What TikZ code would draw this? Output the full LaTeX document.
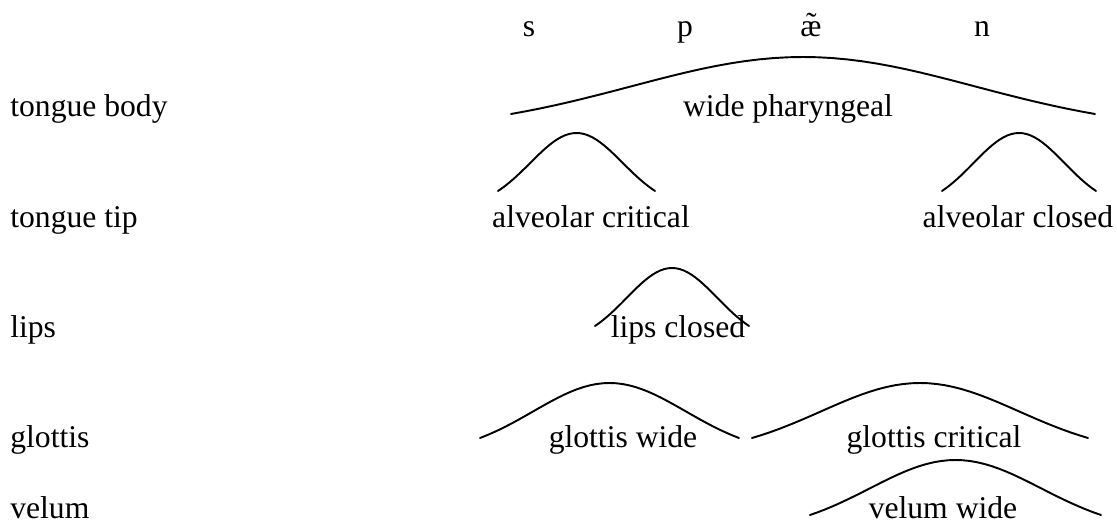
\documentclass[tikz,border=0pt]{standalone}
\usepackage{fontspec}
\setmainfont{Liberation Serif}
\usepackage{tikz}

\tikzset{
  lbl/.style={font=\fontsize{18}{21}\selectfont,inner sep=0pt,anchor=base},
  tier/.style={lbl,anchor=base west},
  gest/.style={line width=1.1pt,line cap=round},
}

\begin{document}
\begin{tikzpicture}[x=0.02cm,y=-0.02cm]
  \useasboundingbox (0,0) rectangle (1117,524);
  % segments on top
  \node[lbl] (seg-s)  at (529,36) {s};
  \node[lbl] (seg-p)  at (685,36) {p};
  \node[lbl] (seg-ae) at (811,36) {æ̃};
  \node[lbl] (seg-n)  at (982,36) {n};
  % tiers
  \node[tier] (tier-body) at (10,116) {tongue body};
  \node[tier] (tier-tip)  at (10,227) {tongue tip};
  \node[tier] (tier-lips) at (10,337) {lips};
  \node[tier] (tier-glot) at (10,447) {glottis};
  \node[tier] (tier-vel)  at (10,518) {velum};
  % gesture humps: left x / right x / foot y / height
  \foreach \xa/\xb/\yb/\h in {511/1095/114/57, 498/655/191/58, 942/1096/191/58,
      595/749/326/58, 480/739/438/55, 752/1088/438/55, 810/1101/515/55}
    \draw[gest] plot[domain=-1.7:1.7,samples=41]
      ({\xa+(\x+1.7)/3.4*(\xb-\xa)},{\yb-\h*(exp(-\x*\x/2)-0.2357)/0.7643});
  % gesture labels
  \node[lbl] (g-phar)    at (788,116)  {wide pharyngeal};
  \node[lbl] (g-alvcrit) at (591,227)  {alveolar critical};
  \node[lbl] (g-alvclo)  at (1018,227) {alveolar closed};
  \node[lbl] (g-lips)    at (678,337)  {lips closed};
  \node[lbl] (g-glwide)  at (623,447)  {glottis wide};
  \node[lbl] (g-glcrit)  at (934,447)  {glottis critical};
  \node[lbl] (g-velwide) at (943,518)  {velum wide};
\end{tikzpicture}
\end{document}
